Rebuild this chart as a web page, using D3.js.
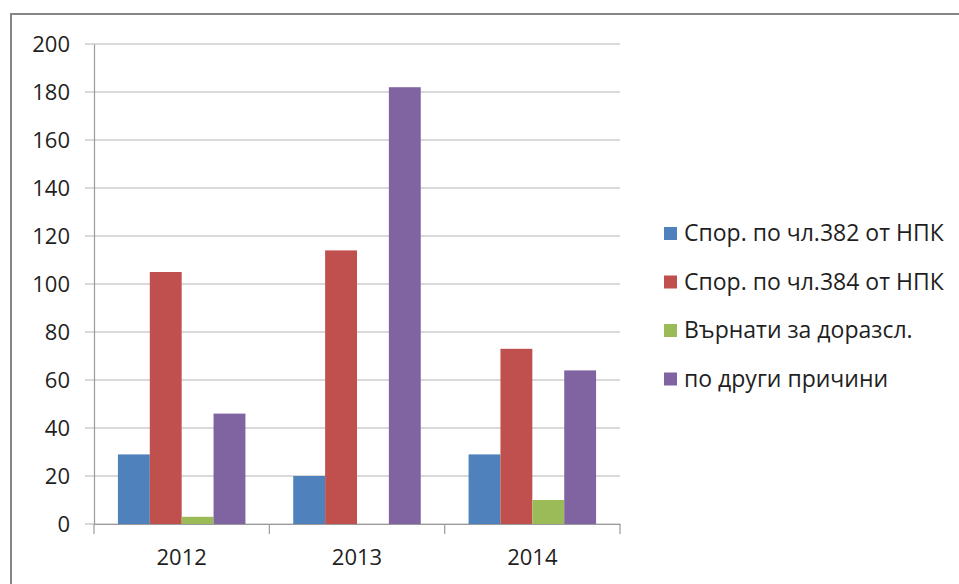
<!DOCTYPE html>
<html>
<head>
<meta charset="utf-8">
<script src="https://cdn.jsdelivr.net/npm/d3@7"></script>
<style>
    body { margin: 0; background: #fff; }
    svg { display: block; font-family: "Open Sans", "DejaVu Sans", sans-serif; }
</style>
</head>
<body>
<div id="chart"></div>
<script>
"use strict";

// Chart data
const years = ['2012', '2013', '2014'];
const seriesNames = ['Спор. по чл.382 от НПК', 'Спор. по чл.384 от НПК',
    'Върнати за доразсл.', 'по други причини'];
const seriesColors = ['#4f81bd', '#c0504d', '#9bbb59', '#8064a2'];
const art382 = [29, 20, 29];
const art384 = [105, 114, 73];
const returned = [3, 0, 10];
const otherReasons = [46, 182, 64];
const yTicks = [0, 20, 40, 60, 80, 100, 120, 140, 160, 180, 200];

const seriesValues = [art382, art384, returned, otherReasons];

const W = 959, H = 584;
const margin = {left: 94, right: 339, top: 44, bottom: 60};
const chartWidth = W - margin.left - margin.right;
const chartHeight = H - margin.top - margin.bottom;

let svg = d3.select('#chart').append('svg')
    .attr('width', W)
    .attr('height', H);

// Chart area frame: only top and left edges are visible in the crop
svg.append('path')
    .attr('d', 'M11,' + H + 'V14H' + W)
    .attr('fill', 'none')
    .attr('stroke', '#868686')
    .attr('stroke-width', 2);

let x0 = d3.scaleBand()
    .domain(years)
    .range([0, chartWidth]);
// Excel-like gap width of ~150% between groups
let x1 = d3.scaleBand()
    .domain(d3.range(seriesNames.length))
    .range([0, x0.bandwidth()])
    .paddingOuter(0.75);
let y = d3.scaleLinear()
    .domain([0, 200])
    .range([chartHeight, 0]);

let g = svg.append('g')
    .attr('transform', 'translate(' + margin.left + ',' + margin.top + ')');

// Horizontal gridlines, extending left as tick marks
g.append('g').selectAll('line')
    .data(yTicks)
    .enter().append('line')
    .attr('x1', -9)
    .attr('x2', chartWidth)
    .attr('y1', function (d) { return y(d); })
    .attr('y2', function (d) { return y(d); })
    .attr('stroke', '#b3b3b3')
    .attr('stroke-width', 1.2);

let yAxis = d3.axisLeft(y).tickValues(yTicks).tickSize(0).tickPadding(24);
g.append('g').call(yAxis)
    .call(function (a) {
        a.select('.domain').attr('stroke', '#9a9a9a').attr('stroke-width', 1.2);
        a.selectAll('text')
            .attr('fill', '#1f1f1f')
            .style('font-size', '22px')
            .style('font-family', '"Open Sans", sans-serif');
    });

// Bars
let groups = g.selectAll('g.year')
    .data(years)
    .enter().append('g')
    .classed('year', true)
    .attr('transform', function (d) { return 'translate(' + x0(d) + ',0)'; });

groups.selectAll('rect')
    .data(function (d, i) {
        return seriesValues.map(function (vals, s) { return {s: s, v: vals[i]}; });
    })
    .enter().append('rect')
    .attr('x', function (d) { return x1(d.s); })
    .attr('width', x1.bandwidth())
    .attr('y', function (d) { return y(d.v); })
    .attr('height', function (d) { return chartHeight - y(d.v); })
    .attr('fill', function (d) { return seriesColors[d.s]; });

// Category axis with tick marks between groups
let xAxis = d3.axisBottom(x0).tickSize(0).tickPadding(25);
let xg = g.append('g')
    .attr('transform', 'translate(0,' + chartHeight + ')')
    .call(xAxis);
xg.select('.domain').attr('stroke', '#9a9a9a').attr('stroke-width', 1.2);
xg.selectAll('text')
    .attr('fill', '#1f1f1f')
    .style('font-size', '22px')
    .style('font-family', '"Open Sans", sans-serif');
xg.selectAll('line.sep')
    .data(d3.range(years.length + 1))
    .enter().append('line')
    .classed('sep', true)
    .attr('x1', function (i) { return i * x0.step(); })
    .attr('x2', function (i) { return i * x0.step(); })
    .attr('y1', 0)
    .attr('y2', 10)
    .attr('stroke', '#9a9a9a')
    .attr('stroke-width', 1.2);

// Legend
let legend = svg.append('g')
    .attr('transform', 'translate(664,233)');
let items = legend.selectAll('g')
    .data(seriesNames)
    .enter().append('g')
    .attr('transform', function (d, i) { return 'translate(0,' + (i * 48.5) + ')'; });
items.append('rect')
    .attr('x', 0)
    .attr('y', -6)
    .attr('width', 13)
    .attr('height', 13)
    .attr('fill', function (d, i) { return seriesColors[i]; });
items.append('text')
    .attr('x', 20)
    .attr('y', 0)
    .attr('dy', '0.36em')
    .attr('fill', '#1f1f1f')
    .style('font-size', '23px')
    .text(function (d) { return d; });
</script>
</body>
</html>
